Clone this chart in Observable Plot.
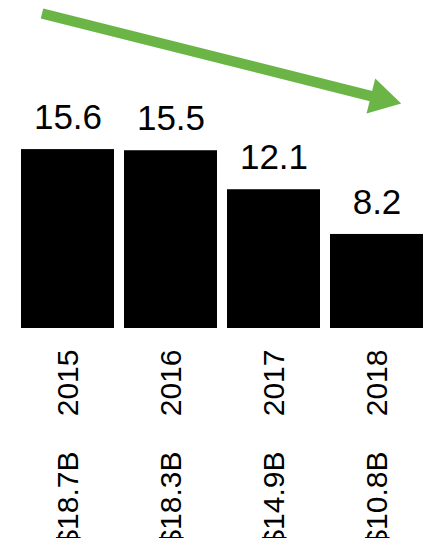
<!DOCTYPE html>
<html>
<head>
<meta charset="utf-8">
<script src="https://cdn.jsdelivr.net/npm/d3@7"></script>
<script src="https://cdn.jsdelivr.net/npm/@observablehq/plot@0.6"></script>
<style>
  html, body { margin: 0; padding: 0; background: #fff; }
  #chart svg { display: block; }
</style>
</head>
<body>
<div id="chart"></div>
<script>
const years = ["2015", "2016", "2017", "2018"];
const values = [15.6, 15.5, 12.1, 8.2];
const amounts = ["$18.7B", "$18.3B", "$14.9B", "$10.8B"];
const valueLabels = ["15.6", "15.5", "12.1", "8.2"];

// trend arrow annotation (from first year to last year, in value units)
const arrowYears = ["2015", "2018"];
const arrowValues = [26.9, 20.14];

const data = years.map((y, i) => ({year: y, value: values[i], amount: amounts[i], label: valueLabels[i]}));
const arrowData = [{x1: arrowYears[0], x2: arrowYears[1], y1: arrowValues[0], y2: arrowValues[1]}];
const headData = [{x: arrowYears[1], y: 20.05}];

const font = "'Liberation Sans', Arial, Helvetica, sans-serif";
const green = "#6ab545";

const chart = Plot.plot({
  width: 428,
  height: 538,
  marginTop: 0,
  marginBottom: 210,
  marginLeft: 19,
  marginRight: 4,
  style: {fontFamily: font, background: "#fff", overflow: "visible"},
  x: {domain: years, paddingInner: 0.1, paddingOuter: 0, axis: null},
  y: {domain: [0, 28.6], axis: null},
  marks: [
    Plot.barY(data, {x: "year", y: "value", fill: "#000"}),
    Plot.text(data, {x: "year", y: "value", text: "label", fontSize: 35, dy: -31.5, fill: "#000"}),
    Plot.text(data, {x: "year", y: 0, text: "year", rotate: -90, textAnchor: "end", fontSize: 30, dy: 21, fill: "#000"}),
    Plot.text(data, {x: "year", y: 0, text: "amount", rotate: -90, textAnchor: "end", fontSize: 30, dy: 123, fill: "#000"}),
    Plot.arrow(arrowData, {x1: "x1", y1: "y1", x2: "x2", y2: "y2", stroke: green, strokeWidth: 10.5, headLength: 0, insetStart: -26.8, insetEnd: 5, strokeLinecap: "butt", strokeLinejoin: "bevel"}),
    Plot.dot(headData, {x: "x", y: "y", symbol: "triangle2", r: 17.2, rotate: 104, fill: green, stroke: "none", dx: 4})
  ]
});
document.getElementById("chart").appendChild(chart);
</script>
</body>
</html>
